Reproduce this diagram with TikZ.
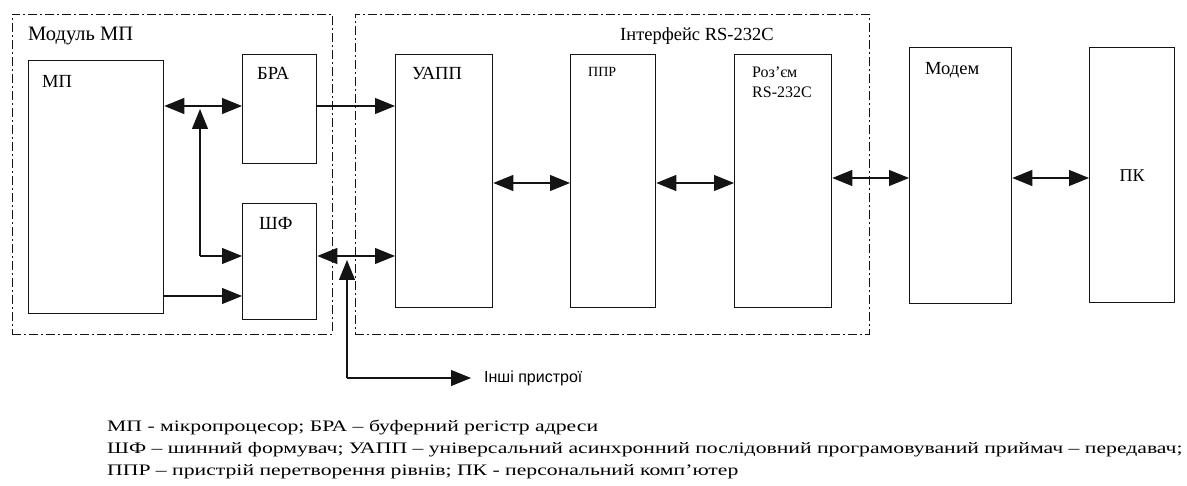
\documentclass[tikz,border=0pt]{standalone}
\usepackage{fontspec}
\setmainfont{Liberation Serif}
\newfontfamily\legendfont[FakeStretch=1.355]{Liberation Serif}
\newfontfamily\devfont{Liberation Sans}
\usetikzlibrary{arrows.meta,positioning}
\definecolor{lineblack}{RGB}{20,20,20}

\begin{document}
\begin{tikzpicture}[x=1pt, y=-1pt,
  blk/.style={rectangle, draw=lineblack, line width=1.3pt, anchor=north west, inner sep=0pt},
  grpframe/.style={rectangle, draw=lineblack, line width=0.9pt, dash pattern=on 9pt off 3pt on 2pt off 3pt, anchor=north west, inner sep=0pt},
  lbl/.style={inner sep=0pt, font=\fontsize{18.5}{20}\selectfont},
  arr/.style={-{Triangle[length=20pt,width=16pt]}, line width=1.1pt, draw=lineblack},
  biarr/.style={{Triangle[length=20pt,width=16pt]}-{Triangle[length=20pt,width=16pt]}, line width=1.1pt, draw=lineblack}
]
\useasboundingbox (0,0) rectangle (1187,486);

% group frames
\node[grpframe, minimum width=320pt, minimum height=320pt] (modmp) at (12,14) {};
\node[grpframe, minimum width=514pt, minimum height=320pt] (iface) at (355,14) {};
\node[lbl, font=\fontsize{20.5}{24}\selectfont, below right=13pt and 16pt of modmp.north west] {Модуль МП};
\node[lbl, below right=13pt and 265pt of iface.north west] {Інтерфейс RS-232C};

% blocks
\node[blk, minimum width=135pt, minimum height=253pt] (mp) at (28,60) {};
\node[blk, minimum width=74pt, minimum height=109pt] (bra) at (242,54) {};
\node[blk, minimum width=74pt, minimum height=116pt] (shf) at (242,203) {};
\node[blk, minimum width=97pt, minimum height=253pt] (uapp) at (395,54) {};
\node[blk, minimum width=85pt, minimum height=253pt] (ppr) at (570,54) {};
\node[blk, minimum width=97pt, minimum height=253pt] (roz) at (734,54) {};
\node[blk, minimum width=102pt, minimum height=256pt] (modem) at (909,47) {};
\node[blk, minimum width=85pt, minimum height=255pt, font=\fontsize{18}{20}\selectfont] (pk) at (1089,47) {ПК};

\node[lbl, below right=15pt and 14pt of mp.north west] {МП};
\node[lbl, below right=13pt and 15pt of bra.north west] {БРА};
\node[lbl, below right=14pt and 17pt of shf.north west] {ШФ};
\node[lbl, below right=13pt and 17pt of uapp.north west] {УАПП};
\node[lbl, font=\fontsize{14}{16}\selectfont, below right=13pt and 18pt of ppr.north west] {ППР};
\node[lbl, font=\fontsize{16}{20}\selectfont, align=left, below right=13pt and 18pt of roz.north west] {Роз’єм\\RS-232C};
\node[lbl, below right=15pt and 16pt of modem.north west] {Модем};

% bus junctions
\coordinate (jbra) at (200,106);
\coordinate (jshf) at (200,256);
\coordinate (jbus) at (347,256);
\coordinate (jdev) at (347,378);
\coordinate (ymp) at (0,296);
\coordinate (yser) at (0,183);
\coordinate (ymod) at (0,178);

\draw[arr] (jbra) -- (jbra -| mp.east);
\draw[arr] (jbra) -- (jbra -| bra.west);
\draw[arr, shorten >=3pt] (jshf) -- (jbra);
\draw[arr] (jshf) -- (jshf -| shf.west);
\draw[arr] (mp.east |- ymp) -- (shf.west |- ymp);
\draw[arr] (bra.east |- jbra) -- (uapp.west |- jbra);

\draw[arr] (jbus) -- (jbus -| shf.east);
\draw[arr] (jbus) -- (jbus -| uapp.west);
\draw[arr, shorten >=4pt] (jdev) -- (jbus);
\node[inner sep=0pt, anchor=west, font=\devfont\fontsize{16}{18}\selectfont] (dev) at (484,378) {Інші пристрої};
\draw[arr, shorten >=13pt] (jdev) -- (dev.west);

\draw[biarr] (uapp.east |- yser) -- (ppr.west |- yser);
\draw[biarr] (ppr.east |- yser) -- (roz.west |- yser);
\draw[biarr] (roz.east |- ymod) -- (modem.west |- ymod);
\draw[biarr] (modem.east |- ymod) -- (pk.west |- ymod);

% legend
\node[inner sep=0pt, anchor=north west, align=left, font=\legendfont\fontsize{16}{22}\selectfont] (legend) at (107,420) {%
МП - мікропроцесор; БРА – буферний регістр адреси\\
ШФ – шинний формувач; УАПП – універсальний асинхронний послідовний програмовуваний приймач – передавач;\\
ППР – пристрій перетворення рівнів; ПК - персональний комп’ютер};
\end{tikzpicture}
\end{document}
